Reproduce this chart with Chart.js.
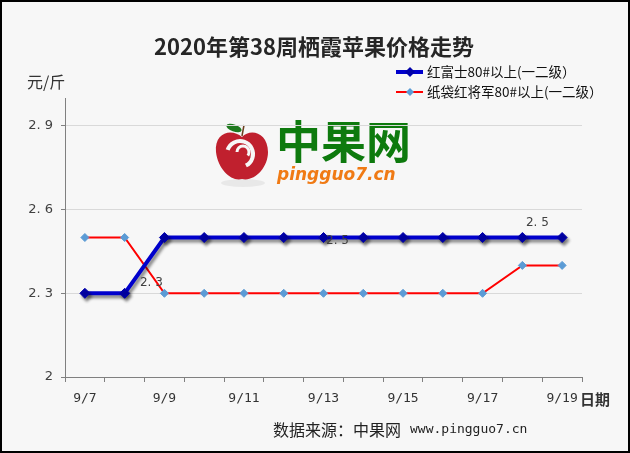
<!DOCTYPE html>
<html>
<head>
<meta charset="utf-8">
<script src="https://cdn.jsdelivr.net/npm/chart.js@4.4.1/dist/chart.umd.min.js"></script>
<style>
    html, body { margin: 0; padding: 0; background: #f7f7f7; }
    #wrap { width: 630px; height: 453px; position: relative; }
</style>
</head>
<body>
<div id="wrap"><canvas id="chart"></canvas></div>
<script>
// 日期
const dates = ['9/7', '9/8', '9/9', '9/10', '9/11', '9/12', '9/13', '9/14', '9/15', '9/16', '9/17', '9/18', '9/19'];
// 红富士80#以上(一二级)
const fujiPrices = [2.3, 2.3, 2.5, 2.5, 2.5, 2.5, 2.5, 2.5, 2.5, 2.5, 2.5, 2.5, 2.5];
// 纸袋红将军80#以上(一二级)
const generalPrices = [2.5, 2.5, 2.3, 2.3, 2.3, 2.3, 2.3, 2.3, 2.3, 2.3, 2.3, 2.4, 2.4];
const seriesNames = ['红富士80#以上(一二级）', '纸袋红将军80#以上(一二级）'];
const yTicks = [2, 2.3, 2.6, 2.9];

const titleText = '2020年第38周栖霞苹果价格走势';
const unitText = '元/斤';
const xTitleText = '日期';
const sourceLabel = '数据来源：中果网';
const sourceUrl = 'www.pingguo7.cn';

const CJK = '"Noto Sans CJK SC", "DejaVu Sans", sans-serif';
const NUM = '"DejaVu Sans Mono", "Noto Sans CJK SC", monospace';
const SANS = '"DejaVu Sans", sans-serif';

// 图中零散的数据标签：[系列, 序号, dx, dy]
const stray = [[1, 2, -13, -10], [0, 6, 14, 3], [0, 11, 15, -15]];

const decorPlugin = {
    id: 'decor',
    beforeDraw(chart) {
        const ctx = chart.ctx;
        ctx.save();
        ctx.fillStyle = '#f7f7f7';
        ctx.fillRect(0, 0, chart.width, chart.height);
        drawLogo(ctx);
        ctx.restore();
    },
    beforeDatasetDraw(chart, args) {
        const ctx = chart.ctx;
        ctx.save();
        if (args.index === 0) {
            ctx.shadowColor = 'rgba(0,0,0,0.45)';
            ctx.shadowOffsetX = 2;
            ctx.shadowOffsetY = 3;
            ctx.shadowBlur = 3;
        }
    },
    afterDatasetDraw(chart) {
        chart.ctx.restore();
    },
    afterDraw(chart) {
        const ctx = chart.ctx;
        const xs = chart.scales.x, ys = chart.scales.y;
        ctx.save();
        // 标题
        ctx.fillStyle = '#262626';
        ctx.font = 'bold 22px ' + CJK;
        ctx.textAlign = 'center';
        ctx.textBaseline = 'middle';
        ctx.fillText(titleText, 314, 47);
        // 单位
        ctx.font = '16px ' + CJK;
        ctx.fillStyle = '#333';
        ctx.textAlign = 'left';
        ctx.fillText(unitText, 27, 82);
        // x 轴标题
        ctx.font = 'bold 15px ' + CJK;
        ctx.fillText(xTitleText, 580, 399);
        // 数据来源
        ctx.fillStyle = '#222';
        ctx.font = '16px ' + CJK;
        ctx.fillText(sourceLabel, 273, 430);
        ctx.font = '13px ' + NUM;
        ctx.fillText(sourceUrl, 410, 430);

        // 图例
        const rows = [
            { y: 72, color: '#0000cc', mark: '#0000aa', lw: 4, r: 5 },
            { y: 92, color: '#ff0000', mark: '#5b9bd5', lw: 2, r: 4 }
        ];
        rows.forEach((row, i) => {
            ctx.strokeStyle = row.color;
            ctx.lineWidth = row.lw;
            ctx.beginPath();
            ctx.moveTo(396, row.y);
            ctx.lineTo(423, row.y);
            ctx.stroke();
            ctx.fillStyle = row.mark;
            ctx.beginPath();
            ctx.moveTo(410, row.y - row.r);
            ctx.lineTo(410 + row.r, row.y);
            ctx.lineTo(410, row.y + row.r);
            ctx.lineTo(410 - row.r, row.y);
            ctx.closePath();
            ctx.fill();
            ctx.fillStyle = '#111';
            ctx.font = '13.5px ' + CJK;
            ctx.textAlign = 'left';
            ctx.fillText(seriesNames[i], 427, row.y);
        });

        // 数据标签
        ctx.font = '12px ' + SANS;
        ctx.fillStyle = '#404040';
        ctx.textAlign = 'center';
        const sets = [fujiPrices, generalPrices];
        stray.forEach(([s, i, dx, dy]) => {
            const x = xs.getPixelForValue(i) + dx;
            const y = ys.getPixelForValue(sets[s][i]) + dy;
            ctx.fillText(sets[s][i].toFixed(1).replace('.', '. '), x, y);
        });

        // 外框
        ctx.strokeStyle = '#000';
        ctx.lineWidth = 2;
        ctx.strokeRect(1, 1, chart.width - 2, chart.height - 2);
        ctx.restore();
    }
};

function drawLogo(ctx) {
    ctx.save();
    // 阴影
    ctx.fillStyle = 'rgba(0,0,0,0.06)';
    ctx.beginPath();
    ctx.ellipse(243, 183, 22, 4, 0, 0, Math.PI * 2);
    ctx.fill();
    // 苹果
    ctx.fillStyle = '#c0202e';
    ctx.beginPath();
    ctx.moveTo(242, 137);
    ctx.bezierCurveTo(232, 128, 214, 132, 216, 152);
    ctx.bezierCurveTo(218, 170, 232, 182, 242, 179);
    ctx.bezierCurveTo(254, 182, 268, 168, 268, 152);
    ctx.bezierCurveTo(268, 132, 250, 128, 242, 137);
    ctx.fill();
    // 漩涡
    ctx.strokeStyle = '#f7f7f7';
    ctx.lineWidth = 4;
    ctx.beginPath();
    ctx.arc(240, 154, 13, Math.PI * 1.1, Math.PI * 0.35, false);
    ctx.stroke();
    ctx.lineWidth = 3;
    ctx.beginPath();
    ctx.arc(243, 152, 6, Math.PI * 1.0, Math.PI * 0.2, false);
    ctx.stroke();
    // 叶子
    ctx.fillStyle = '#1f7a1f';
    ctx.beginPath();
    ctx.ellipse(234, 128, 8, 3.5, 0.35, 0, Math.PI * 2);
    ctx.fill();
    ctx.strokeStyle = '#6b3d1f';
    ctx.lineWidth = 1.5;
    ctx.beginPath();
    ctx.moveTo(242, 136);
    ctx.lineTo(244, 125);
    ctx.stroke();
    // 文字
    ctx.fillStyle = '#0e7a0e';
    ctx.font = 'bold 45px ' + CJK;
    ctx.textBaseline = 'middle';
    ctx.textAlign = 'left';
    ctx.fillText('中果网', 276, 142);
    ctx.fillStyle = '#f07a14';
    ctx.font = 'italic bold 17px "DejaVu Sans", sans-serif';
    ctx.fillText('pingguo7.cn', 277, 176);
    ctx.restore();
}

const chart = new Chart(document.getElementById('chart'), {
    type: 'line',
    data: {
        labels: dates,
        datasets: [{
            label: seriesNames[0],
            data: fujiPrices,
            borderColor: '#0000cc',
            borderWidth: 4,
            pointStyle: 'rectRot',
            pointRadius: 5,
            pointBackgroundColor: '#0000aa',
            pointBorderColor: '#0000aa',
            pointBorderWidth: 1,
            tension: 0
        }, {
            label: seriesNames[1],
            data: generalPrices,
            borderColor: '#ff0000',
            borderWidth: 2,
            pointStyle: 'rectRot',
            pointRadius: 4,
            pointBackgroundColor: '#5b9bd5',
            pointBorderColor: '#5b9bd5',
            pointBorderWidth: 1,
            tension: 0
        }]
    },
    options: {
        responsive: true,
        maintainAspectRatio: false,
        animation: false,
        layout: { padding: { left: 0, right: 48, top: 98, bottom: 0 } },
        plugins: {
            legend: { display: false },
            tooltip: { enabled: false }
        },
        scales: {
            x: {
                offset: true,
                grid: {
                    offset: true,
                    drawOnChartArea: false,
                    drawTicks: true,
                    tickLength: 5,
                    color: '#808080'
                },
                border: { color: '#808080', width: 1 },
                ticks: {
                    autoSkip: false,
                    maxRotation: 0,
                    color: '#333',
                    font: { family: NUM, size: 13 },
                    padding: 9,
                    callback: (v, i) => (i % 2 === 0 ? dates[i] : '')
                },
                afterFit: s => { s.height = 76; }
            },
            y: {
                min: 2,
                max: 3,
                afterBuildTicks: s => { s.ticks = yTicks.map(v => ({ value: v })); },
                grid: {
                    color: '#d9d9d9',
                    drawTicks: true,
                    tickLength: 4,
                    tickColor: '#808080'
                },
                border: { color: '#808080', width: 1 },
                ticks: {
                    color: '#404040',
                    font: { family: SANS, size: 13 },
                    padding: 8,
                    callback: v => (v === 2 ? '2' : v.toFixed(1).replace('.', '. '))
                },
                afterFit: s => { s.width = 65; }
            }
        }
    },
    plugins: [decorPlugin]
});
</script>
</body>
</html>
